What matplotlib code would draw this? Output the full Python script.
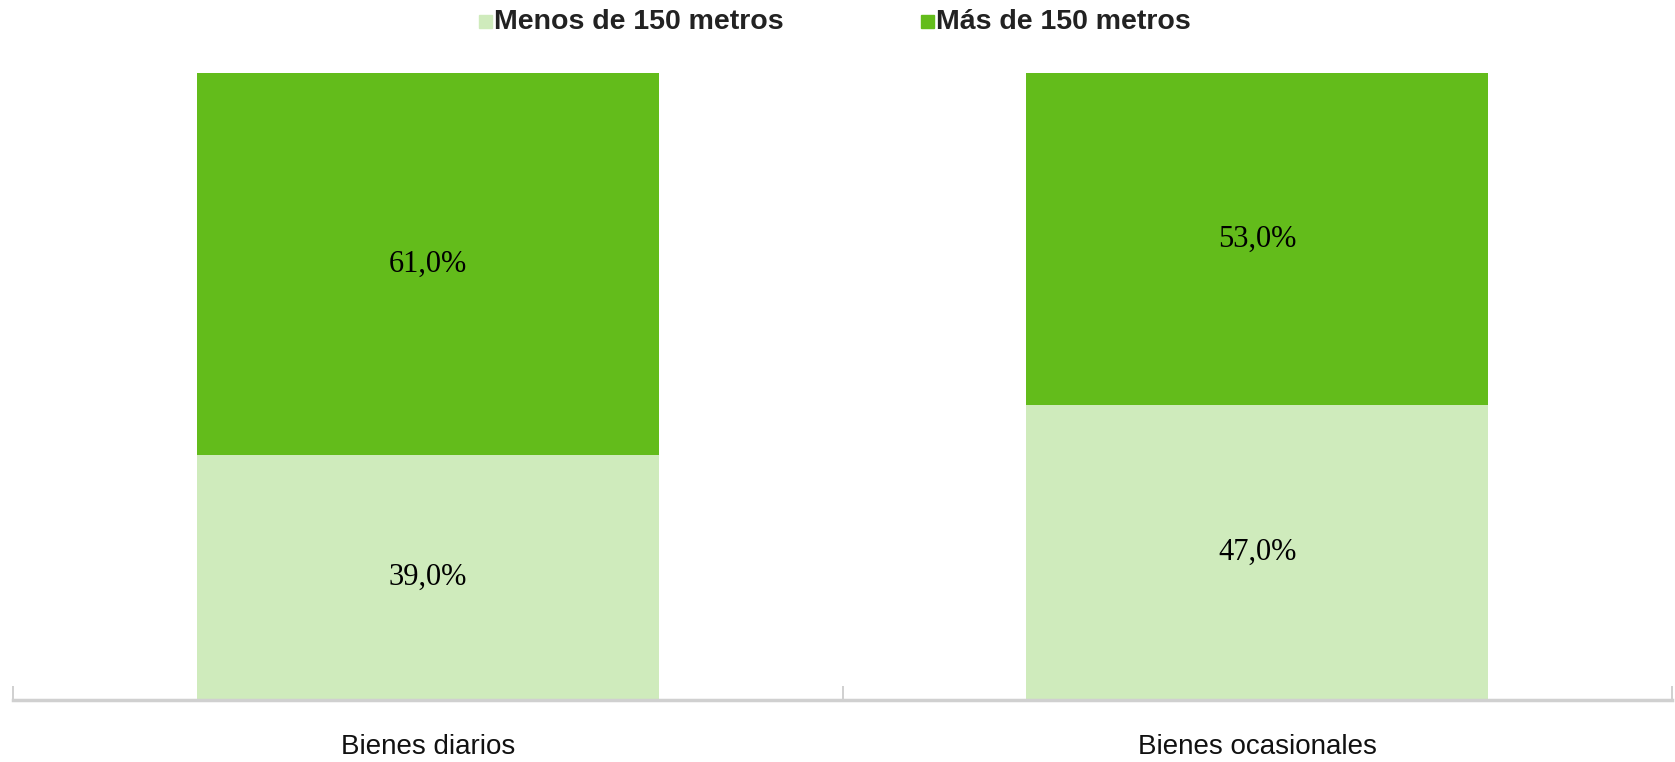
import matplotlib.pyplot as plt
from matplotlib.patches import Rectangle

categories = ["Bienes diarios", "Bienes ocasionales"]
menos_150 = [39.0, 47.0]
mas_150 = [61.0, 53.0]
series_names = ["Menos de 150 metros", "Más de 150 metros"]

LIGHT = "#cfebbc"
DARK = "#63bc1b"

fig = plt.figure(figsize=(16.75, 7.62), dpi=100)
ax = fig.add_axes([0.0078, 0.0814, 0.9904, 0.8233])

x = range(len(categories))
width = 0.557
ax.bar(x, menos_150, width, color=LIGHT)
ax.bar(x, mas_150, width, bottom=menos_150, color=DARK)

serif = ["Liberation Serif", "DejaVu Serif"]
for i in x:
    ax.text(i, menos_150[i] / 2, f"{menos_150[i]:.1f}%".replace(".", ","),
            ha="center", va="center", fontsize=22, family=serif)
    ax.text(i, menos_150[i] + mas_150[i] / 2, f"{mas_150[i]:.1f}%".replace(".", ","),
            ha="center", va="center", fontsize=22, family=serif)

ax.set_xlim(-0.5, 1.5)
ax.set_ylim(0, 100)
ax.set_yticks([])
for s in ["left", "right", "top"]:
    ax.spines[s].set_visible(False)
ax.spines["bottom"].set_color("#d0d0d0")
ax.spines["bottom"].set_linewidth(2.5)
ax.set_xticks([-0.5, 0.5, 1.5])
ax.set_xticklabels([])
ax.tick_params(axis="x", direction="in", length=10, width=1.2, color="#c8c8c8")

sans = ["Liberation Sans", "DejaVu Sans"]
for i in x:
    ax.text(i, -7.5, categories[i], ha="center", va="center",
            fontsize=20, family=sans, color="#111111")

# legend drawn in figure coordinates
leg_y = 1 - 22 / 762
for name, color, x0 in zip(series_names, [LIGHT, DARK], [479, 921]):
    fig.patches.append(Rectangle((x0 / 1675, leg_y - 6 / 762), 13 / 1675, 13 / 762,
                                 transform=fig.transFigure, color=color))
    fig.text((x0 + 15) / 1675, leg_y, name, ha="left", va="center",
             fontsize=20.5, family=sans, fontweight="bold", color="#222222")

fig.savefig("out.png", dpi=100)
